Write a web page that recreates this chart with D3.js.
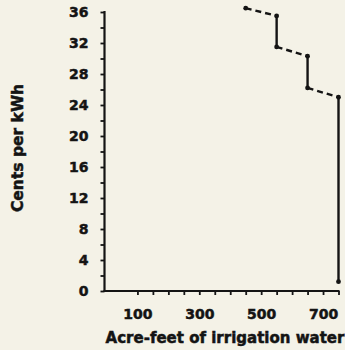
<!DOCTYPE html>
<html>
<head>
<meta charset="utf-8">
<script src="https://cdn.jsdelivr.net/npm/d3@7"></script>
<style>
  html, body { margin: 0; padding: 0; background: #f4f2e7; }
  svg { display: block; }
  text { font-family: "DejaVu Sans", sans-serif; font-weight: bold; fill: #141414; stroke: #141414; stroke-width: 0.5px; }
</style>
</head>
<body>
<script>
// Irrigation water supplied at each electricity price tier
const acreFeet = [450, 550, 550, 650, 650, 750, 750];
const centsPerKWh = [36.5, 35.5, 31.5, 30.3, 26.2, 25.0, 1.2];

const xTickValues = [100, 150, 200, 250, 300, 350, 400, 450, 500, 550, 600, 650, 700, 750];
const xTickLabels = [100, 300, 500, 700];
const yTickValues = d3.range(0, 37, 2);
const yTickLabels = [0, 4, 8, 12, 16, 20, 24, 28, 32, 36];

const W = 345, H = 350;
const ink = "#141414";

const svg = d3.select("body").append("svg")
  .attr("width", W).attr("height", H);

const x = d3.scaleLinear().domain([0, 750]).range([106.5, 338.5]);
const y = d3.scaleLinear().domain([0, 36]).range([291, 12]);
const axisX0 = 104.5;

// y axis
const yAxis = svg.append("g")
  .attr("transform", `translate(${axisX0},0)`)
  .call(d3.axisLeft(y)
    .tickValues(yTickValues)
    .tickSize(4)
    .tickSizeOuter(0)
    .tickPadding(12)
    .tickFormat(d => yTickLabels.includes(d) ? d : ""));
yAxis.select(".domain").remove();
yAxis.selectAll(".tick line").attr("stroke", ink).attr("stroke-width", 1.8);
yAxis.selectAll(".tick text").style("font-size", "14px");

// x axis
const xAxis = svg.append("g")
  .attr("transform", `translate(0,${y(0)})`)
  .call(d3.axisBottom(x)
    .tickValues(xTickValues)
    .tickSize(4)
    .tickSizeOuter(0)
    .tickPadding(14)
    .tickFormat(d => xTickLabels.includes(d) ? d : ""));
xAxis.select(".domain").remove();
xAxis.selectAll(".tick line").attr("stroke", ink).attr("stroke-width", 1.8);
xAxis.selectAll(".tick text").style("font-size", "14px");

// axis lines
svg.append("line")
  .attr("x1", axisX0).attr("x2", axisX0)
  .attr("y1", y(36) - 1).attr("y2", y(0) + 1)
  .attr("stroke", ink).attr("stroke-width", 2.2);
svg.append("line")
  .attr("x1", axisX0 - 1).attr("x2", x(750) + 1)
  .attr("y1", y(0)).attr("y2", y(0))
  .attr("stroke", ink).attr("stroke-width", 2.2);

// axis titles
svg.append("text")
  .attr("x", 225).attr("y", 343)
  .attr("text-anchor", "middle")
  .style("font-size", "15px")
  .text("Acre-feet of irrigation water");

svg.append("text")
  .attr("transform", `translate(23,148) rotate(-90)`)
  .attr("text-anchor", "middle")
  .style("font-size", "15.5px")
  .text("Cents per kWh");

// step segments: price drops are solid, sloped runs are dashed
const pts = acreFeet.map((a, i) => [a, centsPerKWh[i]]);
const segs = d3.pairs(pts);
svg.append("g").selectAll("line")
  .data(segs)
  .join("line")
  .attr("x1", d => x(d[0][0])).attr("y1", d => y(d[0][1]))
  .attr("x2", d => x(d[1][0])).attr("y2", d => y(d[1][1]))
  .attr("stroke", ink)
  .attr("stroke-width", 2.4)
  .attr("stroke-dasharray", d => d[0][0] === d[1][0] ? null : "6,4");

svg.append("g").selectAll("circle")
  .data(pts)
  .join("circle")
  .attr("cx", d => x(d[0])).attr("cy", d => y(d[1]))
  .attr("r", 2.4)
  .attr("fill", ink);
</script>
</body>
</html>
